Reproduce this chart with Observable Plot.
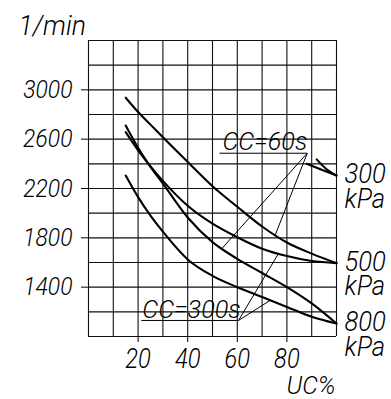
<!DOCTYPE html>
<html>
<head>
<meta charset="utf-8">
<script src="https://cdn.jsdelivr.net/npm/d3@7"></script>
<script src="https://cdn.jsdelivr.net/npm/@observablehq/plot@0.6"></script>
<style>
  html, body { margin: 0; padding: 0; background: #fff; }
  #chart svg { display: block; }
</style>
</head>
<body>
<div id="chart"></div>
<script>
// ---- data ----
const uc = [15, 20, 25, 30, 40, 50, 60, 70, 80, 90, 100];           // UC %
const p500cc60  = [2936, 2820, 2718, 2615, 2415, 2218, 2052, 1892, 1762, 1672, 1595];
const p500cc300 = [2657, 2510, 2380, 2262, 2060, 1915, 1805, 1712, 1652, 1612, 1595];
const p800cc60  = [2711, 2530, 2375, 2240, 1965, 1765, 1630, 1515, 1400, 1268, 1105];
const p800cc300 = [2305, 2130, 1980, 1850, 1625, 1492, 1400, 1320, 1240, 1160, 1105];
// 300 kPa: only the short end pieces are drawn
const p300aUc = [88, 94, 100], p300a = [2400, 2352, 2305];
const p300bUc = [92, 96, 100], p300b = [2436, 2356, 2305];

const yTicks = [1400, 1800, 2200, 2600, 3000];
const xTicks = [20, 40, 60, 80];
const pressureLabels = ["300", "500", "800"];
const pressureEnds = [2305, 1595, 1105];

// annotation labels: text, text position, underline start, leader anchor, leader targets (curve, UC)
const notes = [
  {text: "CC=60s",  tx: 54,   ty: 2516, ux: 52.8, ax: 88.2, ay: 2486,
   targets: [["p800cc60", 53.8], ["p500cc60", 75.3]]},
  {text: "CC=300s", tx: 21.7, ty: 1154, ux: 21.3, ax: 60.5, ay: 1130,
   targets: [["p800cc300", 73.3], ["p500cc300", 76.6]]}
];

// ---- build tables ----
const series = {p500cc60, p500cc300, p800cc60, p800cc300};
const rows = [];
for (const [id, vals] of Object.entries(series)) vals.forEach((v, i) => rows.push({id, uc: uc[i], rpm: v}));
p300aUc.forEach((u, i) => rows.push({id: "p300a", uc: u, rpm: p300a[i]}));
p300bUc.forEach((u, i) => rows.push({id: "p300b", uc: u, rpm: p300b[i]}));

const interp = (vals, x) => {
  const i = d3.bisectRight(uc, x) - 1;
  const t = (x - uc[i]) / (uc[i + 1] - uc[i]);
  return vals[i] + t * (vals[i + 1] - vals[i]);
};
const links = [];
for (const n of notes) {
  links.push({x1: n.ux, y1: n.ay, x2: n.ax, y2: n.ay});
  for (const [id, x] of n.targets) links.push({x1: n.ax, y1: n.ay, x2: x, y2: interp(series[id], x)});
}
const ends = pressureLabels.map((t, i) => ({t: t + "\nkPa", v: pressureEnds[i]}));

const FONT = "Roboto, 'Liberation Sans', sans-serif";
const txt = {fontFamily: FONT, fontStyle: "italic", fontWeight: 300, fill: "#000"};

const chart = Plot.plot({
  width: 391, height: 399,
  marginLeft: 88, marginRight: 55, marginTop: 40, marginBottom: 63,
  x: {domain: [0, 100]},
  y: {domain: [1000, 3400]},
  style: {background: "#fff", color: "#000", fontFamily: FONT, overflow: "visible"},
  marks: [
    Plot.gridX(d3.range(0, 101, 10), {stroke: "#111", strokeOpacity: 1, strokeWidth: 1.1}),
    Plot.gridY(d3.range(1000, 3401, 200), {stroke: "#111", strokeOpacity: 1, strokeWidth: 1.1}),
    Plot.axisY(yTicks, {tickSize: 7, tickPadding: 9, fontSize: 26, tickFormat: d3.format("d"), label: null, ...txt}),
    Plot.axisX(xTicks, {tickSize: 6, tickPadding: 6, fontSize: 27, tickFormat: d3.format("d"), label: null, ...txt}),
    Plot.line(rows, {x: "uc", y: "rpm", z: "id", curve: "monotone-x", stroke: "#000", strokeWidth: 2.1}),
    Plot.link(links, {x1: "x1", y1: "y1", x2: "x2", y2: "y2", stroke: "#000", strokeWidth: 1}),
    Plot.text(notes, {x: "tx", y: "ty", text: "text", textAnchor: "start", lineAnchor: "bottom", fontSize: 26, ...txt}),
    Plot.text(ends, {x: 100, y: "v", text: "t", dx: 8, dy: 12, lineHeight: 0.92, textAnchor: "start", lineAnchor: "middle", fontSize: 27, ...txt}),
    Plot.text(["1/min"], {frameAnchor: "top-left", dx: -70, dy: -6, textAnchor: "start", lineAnchor: "bottom", fontSize: 28, ...txt}),
    Plot.text(["UC%"], {frameAnchor: "bottom-right", dx: -1, dy: 57, textAnchor: "end", lineAnchor: "bottom", fontSize: 26, ...txt})
  ]
});
document.getElementById("chart").appendChild(chart);

// draughting-style lettering: italic, slightly condensed
const squeeze = (s) => /^CC=/.test(s) ? 0.97 : /kPa|^[358]00$/.test(s) ? 0.95 : /min|UC/.test(s) ? 0.95 : 0.88;
d3.select(chart).selectAll("text").attr("font-style", "italic").attr("font-weight", 300);
d3.select(chart).selectAll("text").each(function () {
  const tspans = this.querySelectorAll("tspan");
  const els = tspans.length ? Array.from(tspans) : [this];
  for (const el of els) {
    const w = el.getComputedTextLength();
    if (w > 0) {
      el.setAttribute("textLength", (w * squeeze(el.textContent)).toFixed(1));
      el.setAttribute("lengthAdjust", "spacingAndGlyphs");
    }
  }
});
</script>
</body>
</html>
